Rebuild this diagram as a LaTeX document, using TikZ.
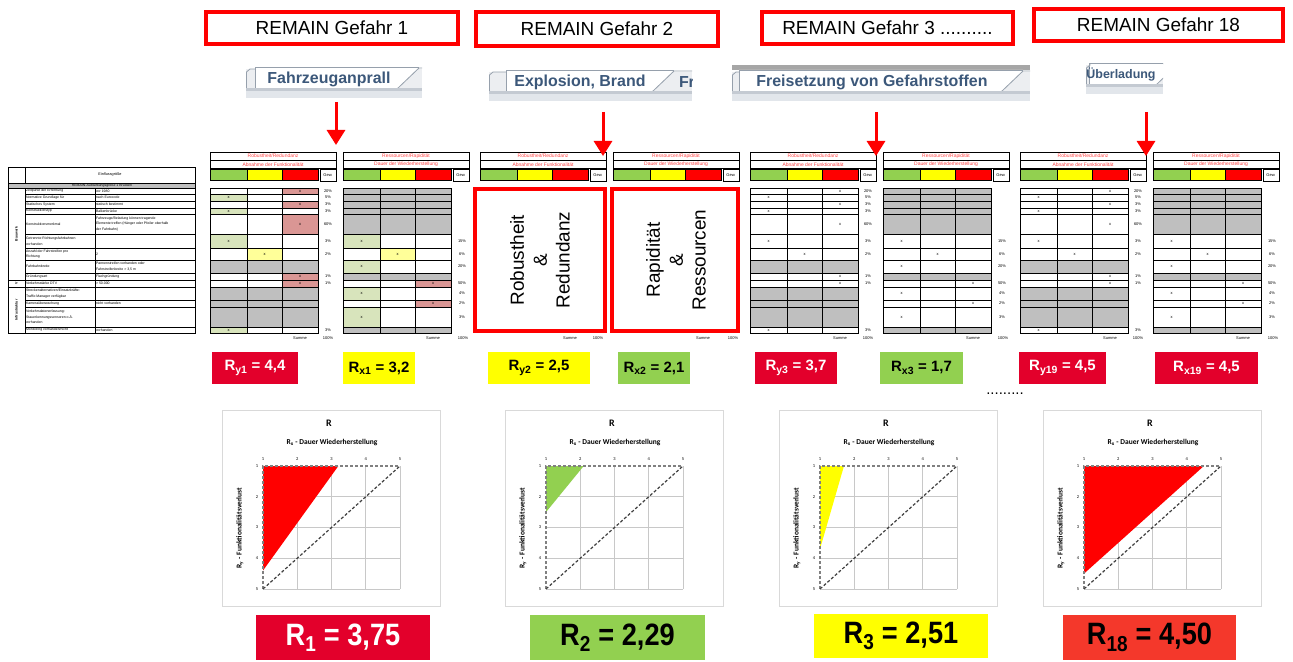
\documentclass[tikz,border=0pt]{standalone}
\usepackage{fontspec}
\usepackage{graphicx}
\setmainfont{Liberation Sans}
\newfontfamily\chartfont{Carlito}
\usetikzlibrary{arrows.meta}

\definecolor{hzred}{RGB}{255,0,0}
\definecolor{crim}{RGB}{227,0,43}
\definecolor{orred}{RGB}{244,56,43}
\definecolor{xlgreen}{RGB}{146,208,80}
\definecolor{xlyellow}{RGB}{255,255,0}
\definecolor{tg}{RGB}{216,228,188}
\definecolor{ty}{RGB}{255,255,153}
\definecolor{tr}{RGB}{218,150,148}
\definecolor{cgray}{RGB}{191,191,191}
\definecolor{hdrred}{RGB}{255,70,70}
\definecolor{tabtext}{RGB}{60,88,122}
\definecolor{tabedge}{RGB}{150,160,172}
\definecolor{tabbg}{RGB}{236,238,241}
\definecolor{bandgray}{RGB}{196,202,210}
\definecolor{bandlight}{RGB}{226,230,235}
\definecolor{gridgray}{RGB}{200,200,200}
\definecolor{framegray}{RGB}{217,217,217}

\tikzset{
  titlebox/.style={draw=hzred, line width=4bp, fill=white, minimum height=32bp, font=\fontsize{19}{22}\selectfont},
  bigbox/.style={draw=hzred, line width=4bp, fill=white},
  bigtext/.style={rotate=90, align=center, font=\fontsize{19}{23}\selectfont},
  redarrow/.style={draw=hzred, line width=3bp, -{Triangle[width=18bp,length=15bp]}},
  tablabel/.style={font=\fontsize{16}{18}\selectfont\bfseries, text=tabtext},
  tabline/.style={draw=tabedge, line width=0.8bp},
  tcell/.style={draw=black, line width=0.8bp},
  tinytxt/.style={font=\fontsize{4}{5}\selectfont},
  hdrtxt/.style={font=\fontsize{5}{6}\selectfont, text=hdrred},
  lefttxt/.style={font=\fontsize{3.5}{5.6}\selectfont, align=left, anchor=west},
  valbox/.style={minimum height=32bp, font=\fontsize{15}{17}\selectfont\bfseries},
  rbox/.style={minimum height=45bp, font=\fontsize{31}{34}\selectfont\bfseries},
  chartframe/.style={draw=framegray, line width=1bp},
  gridline/.style={draw=gridgray, line width=0.9bp},
  edgedash/.style={draw=gray, line width=1.1bp, dash pattern=on 3bp off 2bp},
  diagdash/.style={draw=black!75, line width=1.2bp, dash pattern=on 3bp off 2bp},
  axisnum/.style={font=\chartfont\fontsize{4.5}{5}\selectfont},
  charttitle/.style={font=\chartfont\bfseries\fontsize{10}{12}\selectfont},
  chartsub/.style={font=\chartfont\bfseries\fontsize{7.5}{9}\selectfont},
}

% Excel-like sheet tab: name, strip left, active tab left, slash foot, strip right, top, label, label centre
\newcommand\sheettab[8]{%
  \begin{scope}
    \clip (#2,#6) rectangle (#5,#6+31);
    \fill[tabbg] (#2,#6+2) rectangle (#5,#6+22);
    \fill[white] (#3,#6) -- (#4+22,#6) -- (#4,#6+22) -- (#3,#6+22) -- cycle;
    \draw[tabline] (#3,#6+22) -- (#3,#6+0.5) -- (#4+22,#6+0.5);
    \draw[tabline] (#4,#6+22) -- (#4+22,#6+1) -- (#5,#6+1);
    \draw[tabline] (#2+0.5,#6+22) -- (#2+0.5,#6+5) -- (#2+4,#6+2) -- (#3,#6+2);
    \fill[bandgray] (#2,#6+21) rectangle (#5,#6+24);
    \fill[bandlight] (#2,#6+24) rectangle (#5,#6+31);
  \end{scope}
  \node[tablabel] (#1) at (#8,#6+12) {#7};
}

% one row of three rating cells: x0, top, bottom, marked column (0 = greyed), tint flag
\newcommand\tabrow[5]{%
  \ifnum#4=0
    \foreach \ca/\cb in {0/37,37/72,72/108}
      \draw[tcell,fill=cgray] (#1+\ca,#2) rectangle (#1+\cb,#3);
  \else
    \foreach \ca/\cb/\cc [count=\ci] in {0/37/tg,37/72/ty,72/108/tr}{%
      \ifnum\ci=#4
        \ifnum#5=1 \edef\cf{\cc}\else\def\cf{white}\fi
        \draw[tcell,fill=\cf] (#1+\ca,#2) rectangle (#1+\cb,#3);
        \node[tinytxt] at ({#1+(\ca+\cb)/2},{(#2+#3)/2}) {x};
      \else
        \draw[tcell,fill=white] (#1+\ca,#2) rectangle (#1+\cb,#3);
      \fi}
  \fi}

% header of a rating table: x0, first title, second title
\newcommand\tabhead[3]{%
  \draw[tcell] (#1,152) -- (#1+126,152);
  \draw[tcell] (#1,160) -- (#1+126,160);
  \draw[tcell] (#1,168) -- (#1+126,168);
  \draw[tcell] (#1,152) -- (#1,168);
  \draw[tcell] (#1+126,152) -- (#1+126,181);
  \draw[tcell,fill=xlgreen] (#1,169) rectangle (#1+37,180);
  \draw[tcell,fill=xlyellow] (#1+37,169) rectangle (#1+72,180);
  \draw[tcell,fill=hzred] (#1+72,169) rectangle (#1+108,180);
  \draw[tcell] (#1+110,169) rectangle (#1+126,181);
  \node[tinytxt] at (#1+118,175) {Gew.};
  \node[hdrtxt] at (#1+63,156) {#2};
  \node[hdrtxt] at (#1+63,164.5) {#3};
}

\newcommand\leftbody[2]{%
  \foreach \ya/\yb/\mk/\pc in {188/194/3/20,194/201/1/5,201/208/3/3,208/214/1/3,214/234/3/60,234/248/1/3,248/260/2/2,260/273/0/0,273/280/3/1,280/287/3/1,287/300/0/0,300/307/0/0,307/327/0/0,327/333/1/3}{%
    \tabrow{#1}{\ya}{\yb}{\mk}{#2}
    \ifnum\pc>0 \node[tinytxt] at (#1+118,{(\ya+\yb)/2}) {\pc\%};\fi
  }}

\newcommand\rightbody[2]{%
  \foreach \ya/\yb/\mk/\pc in {188/194/0/0,194/201/0/0,201/208/0/0,208/214/0/0,214/234/0/0,234/248/1/15,248/260/2/6,260/273/1/20,273/280/0/0,280/287/3/50,287/300/1/4,300/307/3/2,307/327/1/3,327/333/0/0}{%
    \tabrow{#1}{\ya}{\yb}{\mk}{#2}
    \ifnum\pc>0 \node[tinytxt] at (#1+119,{(\ya+\yb)/2}) {\pc\%};\fi
  }}

% pair of rating tables: x0, tint flag, body flag
\newcommand\tablepair[3]{%
  \tabhead{#1}{Robustheit/Redundanz}{Abnahme der Funktionalität}
  \tabhead{#1+133}{Ressourcen/Rapidität}{Dauer der Wiederherstellung}
  \ifnum#3=1 \leftbody{#1}{#2}\rightbody{#1+133}{#2}\fi
  \node[tinytxt] at (#1+90,338) {Summe};
  \node[tinytxt] at (#1+118,338) {100\%};
  \node[tinytxt] at (#1+223,338) {Summe};
  \node[tinytxt] at (#1+253,338) {100\%};
}

% resilience chart: name, left edge, fill colour, R_x, R_y
\newcommand\riskchart[5]{%
  \node[chartframe, minimum width=218bp, minimum height=196bp, anchor=north west] (#1) at (#2,410) {};
  \node[charttitle] (#1t) at (#2+107,423) {R};
  \node[chartsub] (#1x) at (#2+110,443) {R\textsubscript{x} - Dauer Wiederherstellung};
  \node[chartsub, rotate=90] (#1y) at (#2+18,528) {R\textsubscript{y} - Funktionalitätsverlust};
  \begin{scope}[shift={(#2+41,466)}]
    \foreach \i in {1,...,4} {
      \draw[gridline] ({\i*34.25},0) -- ({\i*34.25},123);
      \draw[gridline] (0,{\i*30.75}) -- (137,{\i*30.75});
    }
    \fill[#3] (0,0) -- ({(#4-1)*34.25},0) -- (0,{(#5-1)*30.75}) -- cycle;
    \draw[edgedash] (0,123) -- (0,0) -- (137,0);
    \draw[diagdash] (0,123) -- (137,0);
    \foreach \i in {1,...,5} {
      \node[axisnum] at ({(\i-1)*34.25},-7) {\i};
      \node[axisnum] at (-6,{(\i-1)*30.75}) {\i};
    }
  \end{scope}
}

\begin{document}
\begin{tikzpicture}[x=1bp,y=-1bp,every node/.style={inner sep=0pt,outer sep=0pt}]
\useasboundingbox (0,0) rectangle (1293,662);
\fill[white] (0,0) rectangle (1293,662);

% hazard titles
\node[titlebox, minimum width=252bp] (t1) at (332,28) {REMAIN Gefahr 1};
\node[titlebox, minimum width=242bp, minimum height=34bp] (t2) at (597,29) {REMAIN Gefahr 2};
\node[titlebox, minimum width=251bp] (t3) at (887.5,28) {REMAIN Gefahr 3 ..........};
\node[titlebox, minimum width=249bp] (t4) at (1158.5,25) {REMAIN Gefahr 18};

% worksheet tabs
\sheettab{tab1}{246}{255}{397}{422}{67}{Fahrzeuganprall}{329}
\sheettab{tab2}{489}{506}{652}{692}{70}{Explosion, Brand}{580}
\begin{scope}
  \clip (674,70) rectangle (692,92);
  \node[tablabel, anchor=west] (tab2next) at (679,82) {Fr};
\end{scope}
\fill[black!35] (732,65) rectangle (1030,70);
\sheettab{tab3}{732}{739}{1001}{1030}{70}{Freisetzung von Gefahrstoffen}{872}
\sheettab{tab4}{1086}{1089}{1156}{1163}{63}{\fontsize{12.5}{14}\selectfont Überladung}{1121}

% parameter table
\draw[tcell, fill=white] (8,167) rectangle (195,333);
\draw[tcell] (25,167) -- (25,183);
\node[font=\fontsize{3.8}{4.5}\selectfont] (lhead) at (110,175) {Einflussgröße};
\draw[tcell, fill=cgray] (8,183) rectangle (195,188);
\node[font=\fontsize{3.5}{4}\selectfont] (lgroup) at (102,185.5) {REMAIN-Auswirkungsgröße 1 Brücken};
\draw[tcell] (25,188) -- (25,333);
\draw[tcell] (95,188) -- (95,333);
\foreach \yy in {194,201,208,214,234,248,260,273,280,287,300,307,327}
  \draw[tcell] (25,\yy) -- (195,\yy);
\draw[tcell] (8,280) -- (25,280);
\draw[tcell] (8,287) -- (25,287);
\foreach \ya/\yb/\pa/\va in {
  188/194/{Zeitpunkt der Errichtung}/{vor 1980},
  194/201/{Normative Grundlage für}/{nach Eurocode},
  201/208/{Statisches System}/{statisch bestimmt},
  208/214/{Konstruktionstyp}/{Balkenbrücke},
  214/234/{Konstruktionsmerkmal}/{Fahrzeuge/Beladung können tragende\\Elemente treffen (Hänger oder Pfeiler oberhalb\\der Fahrbahn)},
  234/248/{Getrennte Richtungsfahrbahnen\\vorhanden}/{},
  248/260/{Anzahl der Fahrstreifen pro\\Richtung}/{2},
  260/273/{Fahrbahnbreite}/{Pannenstreifen vorhanden oder\\Fahrstreifenbreite > 3,5 m},
  273/280/{Gründungsart}/{Flachgründung},
  280/287/{Verkehrsstärke DTV}/{> 50.000},
  287/300/{Streckenalternativen/Einsatzkräfte:\\Traffic Manager verfügbar}/{},
  300/307/{Kameraüberwachung}/{nicht vorhanden},
  307/327/{Verkehrsdatenerfassung:\\Stauerkennungssensoren o.Ä.\\vorhanden}/{},
  327/333/{Monitoring vorhanden/nicht}/{vorhanden}}{
  \node[lefttxt] at (26,{(\ya+\yb)/2}) {\pa};
  \node[lefttxt] at (96,{(\ya+\yb)/2}) {\va};
}
\node[font=\fontsize{3.5}{4}\selectfont\bfseries, rotate=90] (cat1) at (16.5,234) {Bauwerk};
\node[font=\fontsize{3.5}{4}\selectfont\bfseries, rotate=90] (cat2) at (16.5,283.5) {V};
\node[font=\fontsize{3.5}{4}\selectfont\bfseries, rotate=90] (cat3) at (16.5,310) {Infrastruktur};

% rating tables per hazard
\tablepair{210}{1}{1}
\tablepair{480}{0}{0}
\tablepair{750}{0}{1}
\tablepair{1020}{0}{1}

% summary boxes over the second pair
\node[bigbox, minimum width=130bp, minimum height=142bp] (rrbox) at (540,260) {};
\node[bigtext] (rrtext) at (540,260) {Robustheit\\\&\\Redundanz};
\node[bigbox, minimum width=126bp, minimum height=142bp] (rabox) at (675,260) {};
\node[bigtext] (ratext) at (676,260) {Rapidität\\\&\\Ressourcen};

% arrows from tabs to tables
\coordinate (a1s) at (336,102); \coordinate (a1e) at (336,145);
\coordinate (a2s) at (603,112); \coordinate (a2e) at (603,156);
\coordinate (a3s) at (876,112); \coordinate (a3e) at (876,156);
\coordinate (a4s) at (1146,112); \coordinate (a4e) at (1146,156);
\draw[redarrow] (a1s) -- (a1e);
\draw[redarrow] (a2s) -- (a2e);
\draw[redarrow] (a3s) -- (a3e);
\draw[redarrow] (a4s) -- (a4e);

% component values
\node[valbox, fill=crim, text=white, minimum width=86bp] (vy1) at (255,368) {R\textsubscript{y1} = 4,4};
\node[valbox, fill=xlyellow, minimum width=72bp] (vx1) at (379,368) {R\textsubscript{x1} = 3,2};
\node[valbox, fill=xlyellow, minimum width=102bp] (vy2) at (539,368) {R\textsubscript{y2} = 2,5};
\node[valbox, fill=xlgreen, minimum width=72bp] (vx2) at (654,368) {R\textsubscript{x2} = 2,1};
\node[valbox, fill=crim, text=white, minimum width=82bp] (vy3) at (796,368) {R\textsubscript{y3} = 3,7};
\node[valbox, fill=xlgreen, minimum width=83bp] (vx3) at (921.5,368) {R\textsubscript{x3} = 1,7};
\node[valbox, fill=crim, text=white, minimum width=87bp] (vy19) at (1062.5,368) {R\textsubscript{y19} = 4,5};
\node[valbox, fill=crim, text=white, minimum width=103bp] (vx19) at (1206.5,368) {R\textsubscript{x19} = 4,5};

\node[font=\fontsize{15}{17}\selectfont] (dots) at (1005,394) {.........};

% charts
\riskchart{c1}{222}{hzred}{3.2}{4.4}
\riskchart{c2}{505}{xlgreen}{2.1}{2.5}
\riskchart{c3}{779}{xlyellow}{1.7}{3.7}
\riskchart{c4}{1043}{hzred}{4.5}{4.5}

% overall results
\node[rbox, fill=crim, text=white, minimum width=174bp] (r1) at (343,637.5) {\scalebox{.88}[1]{R\textsubscript{1} = 3,75}};
\node[rbox, fill=xlgreen, minimum width=175bp] (r2) at (617.5,637.5) {\scalebox{.88}[1]{R\textsubscript{2} = 2,29}};
\node[rbox, fill=xlyellow, minimum width=174bp, minimum height=44bp] (r3) at (901,636) {\scalebox{.88}[1]{R\textsubscript{3} = 2,51}};
\node[rbox, fill=orred, minimum width=173bp] (r18) at (1149.5,637.5) {\scalebox{.88}[1]{R\textsubscript{18} = 4,50}};
\end{tikzpicture}
\end{document}
